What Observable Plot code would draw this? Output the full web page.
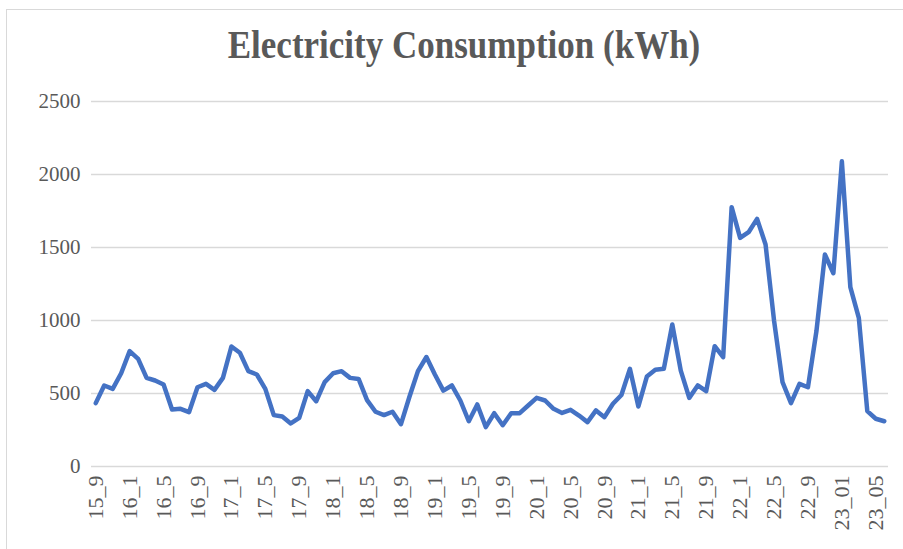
<!DOCTYPE html>
<html>
<head>
<meta charset="utf-8">
<script src="https://cdn.jsdelivr.net/npm/d3@7"></script>
<script src="https://cdn.jsdelivr.net/npm/@observablehq/plot@0.6"></script>
<style>
  html, body { margin: 0; padding: 0; background: #fff; }
  #wrap { position: relative; width: 903px; height: 549px; overflow: hidden; }
  #frame { position: absolute; left: 6px; top: 9px; width: 910px; height: 560px; border: 1px solid #d9d9d9; box-sizing: border-box; }
  #title { position: absolute; left: 0; width: 928px; top: 25px; text-align: center;
           font-family: "Liberation Serif", "Times New Roman", serif; font-weight: bold;
           font-size: 35px; color: #595959; line-height: 1;
           transform: scaleY(1.15); transform-origin: 50% 0; }
  #chart { position: absolute; left: 0; top: 0; }
</style>
</head>
<body>
<div id="wrap">
  <div id="frame"></div>
  <div id="title">Electricity Consumption (kWh)</div>
  <div id="chart"></div>
</div>
<script>
// Monthly periods from 2015-09 to 2023-06
const years  = [15,15,15,15, 16,16,16,16,16,16,16,16,16,16,16,16, 17,17,17,17,17,17,17,17,17,17,17,17,
                18,18,18,18,18,18,18,18,18,18,18,18, 19,19,19,19,19,19,19,19,19,19,19,19,
                20,20,20,20,20,20,20,20,20,20,20,20, 21,21,21,21,21,21,21,21,21,21,21,21,
                22,22,22,22,22,22,22,22,22,22,22,22, 23,23,23,23,23,23];
const months = [9,10,11,12, 1,2,3,4,5,6,7,8,9,10,11,12, 1,2,3,4,5,6,7,8,9,10,11,12,
                1,2,3,4,5,6,7,8,9,10,11,12, 1,2,3,4,5,6,7,8,9,10,11,12,
                1,2,3,4,5,6,7,8,9,10,11,12, 1,2,3,4,5,6,7,8,9,10,11,12,
                1,2,3,4,5,6,7,8,9,10,11,12, 1,2,3,4,5,6];
const consumption = [434,555,532,639,790,737,607,589,562,390,
                     395,372,543,566,525,607,822,779,653,630,
                     532,352,342,295,333,516,447,578,639,653,
                     607,600,455,375,352,375,290,478,653,750,
                     630,520,555,452,310,425,270,365,283,365,
                     365,418,470,452,395,367,388,349,304,384,
                     338,430,490,669,411,616,662,669,973,657,
                     470,555,516,824,749,1776,1566,1605,1696,1520,
                     1000,578,434,566,543,927,1452,1324,2090,1228,
                     1018,379,327,310];
const labels = years.map((y, i) => y === 23 ? `${y}_${String(months[i]).padStart(2, "0")}` : `${y}_${months[i]}`);
const yTicks = [0, 500, 1000, 1500, 2000, 2500];
const xTicks = labels.filter((d, i) => i % 4 === 0);

const data = labels.map((label, i) => ({label, value: consumption[i]}));

const chart = Plot.plot({
  width: 903,
  height: 549,
  marginLeft: 91,
  marginRight: 15,
  marginTop: 101,
  marginBottom: 83,
  style: { fontFamily: "'Liberation Serif', 'Times New Roman', serif", fontSize: "21px", color: "#595959", background: "transparent" },
  x: { type: "point", domain: labels, padding: 0.5, label: null },
  y: { domain: [0, 2500], label: null },
  marks: [
    Plot.gridY(yTicks, { stroke: "#d9d9d9", strokeOpacity: 1, strokeWidth: 1.5 }),
    Plot.axisY(yTicks, { tickSize: 0, tickPadding: 11, fill: "#595959", fontSize: 21, label: null, tickFormat: d => String(d) }),
    Plot.axisX(xTicks, { tickSize: 0, tickPadding: 9, tickRotate: -90, fill: "#595959", fontSize: 22, label: null }),
    Plot.line(data, { x: "label", y: "value", stroke: "#4472C4", strokeWidth: 4.5, strokeLinejoin: "round", strokeLinecap: "round" })
  ]
});
document.getElementById("chart").appendChild(chart);
</script>
</body>
</html>
